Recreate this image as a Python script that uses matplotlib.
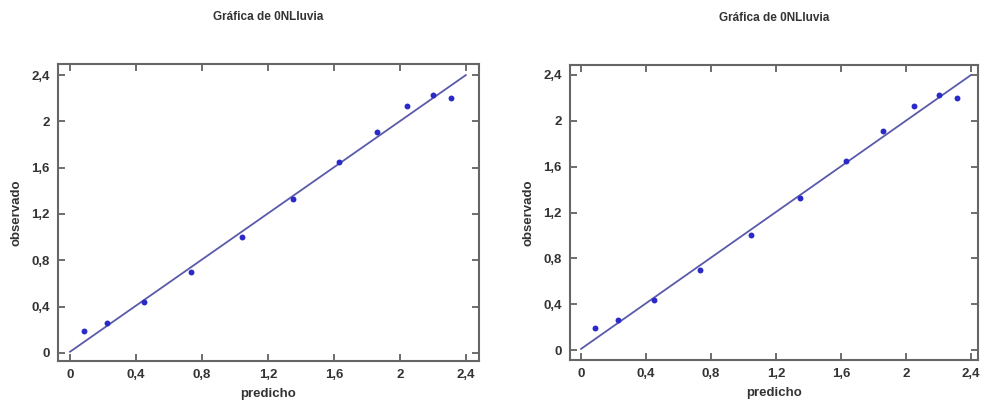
import matplotlib
matplotlib.use('Agg')
import matplotlib.pyplot as plt

# values (same data in both panels)
predicho = [0.087, 0.226, 0.449, 0.732, 1.045, 1.349, 1.628, 1.86, 2.046, 2.2, 2.311]
observado = [0.193, 0.259, 0.44, 0.698, 1.0, 1.328, 1.647, 1.911, 2.13, 2.228, 2.202]
fit_x = [0.0, 2.4]
fit_y = [0.01, 2.4]
tick_vals = [0, 0.4, 0.8, 1.2, 1.6, 2.0, 2.4]
tick_labels = ['0', '0,4', '0,8', '1,2', '1,6', '2', '2,4']
title = 'Gráfica de 0NLluvia'

plt.rcParams['font.family'] = ['Liberation Sans', 'DejaVu Sans']
txt = '#333333'

fig = plt.figure(figsize=(9.85, 4.12), dpi=100)
panels = [
    ([0.0589, 0.1238, 0.4274, 0.7209], (-0.073, 2.48), (-0.07, 2.496)),
    ([0.5787, 0.1262, 0.4142, 0.7160], (-0.068, 2.443), (-0.087, 2.487)),
]

for rect, xl, yl in panels:
    ax = fig.add_axes(rect)
    ax.plot(fit_x, fit_y, color='#5a5aaa', lw=1.3, zorder=2)
    ax.scatter(predicho, observado, s=18, color='#2a2ac8', zorder=3, linewidths=0)
    ax.set_xlim(*xl)
    ax.set_ylim(*yl)
    ax.set_xticks(tick_vals)
    ax.set_xticklabels(tick_labels)
    ax.set_yticks(tick_vals)
    ax.set_yticklabels(tick_labels)
    ax.tick_params(direction='in', top=True, right=True, length=5, width=1.2,
                   color='#555555', labelsize=9.5, labelcolor=txt, pad=6)
    for lab in ax.get_xticklabels() + ax.get_yticklabels():
        lab.set_fontweight('bold')
    for sp in ax.spines.values():
        sp.set_color('#666666')
        sp.set_linewidth(1.5)
    ax.set_xlabel('predicho', fontsize=9.5, fontweight='bold', color=txt, labelpad=5)
    ax.set_ylabel('observado', fontsize=9.5, fontweight='bold', color=txt, labelpad=6)
    ax.set_title(title, fontsize=8.5, fontweight='bold', color=txt, pad=32)

fig.savefig('out.png', dpi=100)
